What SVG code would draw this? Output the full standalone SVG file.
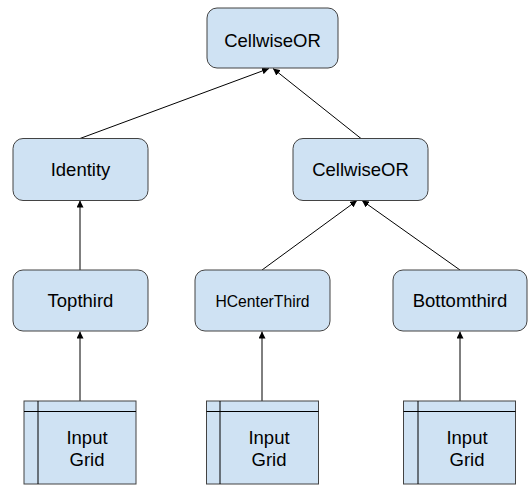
<svg xmlns="http://www.w3.org/2000/svg" width="532" height="485" viewBox="0 0 532 485">
<style>
.box{fill:#cfe2f3;stroke:#434343;stroke-width:1}
.t{font-family:"Liberation Sans",Arial,sans-serif;font-size:18.5px;fill:#000;text-anchor:middle}
.s{font-size:15.7px}
.c{stroke:#000;stroke-width:1;fill:none;marker-end:url(#ah)}
.g{stroke:#000;stroke-width:1;fill:none}
</style>
<defs>
<marker id="ah" viewBox="0 0 10 10" refX="10" refY="5" markerWidth="7" markerHeight="7" markerUnits="userSpaceOnUse" orient="auto">
<path d="M0,0 L10,5 L0,10 z" fill="#000"/>
</marker>
</defs>
<rect width="532" height="485" fill="#fff"/>
<g id="connectors">
<line class="c" x1="80" y1="138.5" x2="269" y2="68.5"/>
<line class="c" x1="361" y1="138.5" x2="273" y2="68.5"/>
<line class="c" x1="80" y1="270" x2="80" y2="200.5"/>
<line class="c" x1="262" y1="270" x2="357" y2="200.5"/>
<line class="c" x1="460" y1="270" x2="362" y2="200.5"/>
<line class="c" x1="80" y1="401" x2="80" y2="331.5"/>
<line class="c" x1="262" y1="401" x2="262" y2="331.5"/>
<line class="c" x1="460" y1="401" x2="460" y2="331.5"/>
</g>
<g id="n_top">
<rect class="box" x="207" y="8" width="131" height="60" rx="10"/>
<text class="t" x="272.5" y="47">CellwiseOR</text>
</g>
<g id="n_identity">
<rect class="box" x="13" y="138.5" width="135" height="62" rx="10"/>
<text class="t" x="80.5" y="176">Identity</text>
</g>
<g id="n_or2">
<rect class="box" x="293" y="138.5" width="135" height="62" rx="10"/>
<text class="t" x="360.5" y="176">CellwiseOR</text>
</g>
<g id="n_topthird">
<rect class="box" x="13" y="270" width="135" height="61" rx="10"/>
<text class="t" x="80.5" y="307">Topthird</text>
</g>
<g id="n_hcenter">
<rect class="box" x="195" y="270" width="135" height="61" rx="10"/>
<text class="t s" x="262.5" y="307">HCenterThird</text>
</g>
<g id="n_bottom">
<rect class="box" x="393" y="270" width="134" height="61" rx="10"/>
<text class="t" x="460" y="307">Bottomthird</text>
</g>
<g id="n_grid1">
<rect class="box" x="24" y="401" width="112" height="83"/>
<line class="g" x1="38" y1="401" x2="38" y2="484"/>
<line class="g" x1="24" y1="411.5" x2="136" y2="411.5"/>
<text class="t" x="87" y="444">Input</text>
<text class="t" x="87" y="466">Grid</text>
</g>
<g id="n_grid2">
<rect class="box" x="206.5" y="401" width="112" height="83"/>
<line class="g" x1="220" y1="401" x2="220" y2="484"/>
<line class="g" x1="206.5" y1="411.5" x2="318.5" y2="411.5"/>
<text class="t" x="269" y="444">Input</text>
<text class="t" x="269" y="466">Grid</text>
</g>
<g id="n_grid3">
<rect class="box" x="403.5" y="401" width="112" height="83"/>
<line class="g" x1="418" y1="401" x2="418" y2="484"/>
<line class="g" x1="403.5" y1="411.5" x2="515.5" y2="411.5"/>
<text class="t" x="467" y="444">Input</text>
<text class="t" x="467" y="466">Grid</text>
</g>
</svg>
